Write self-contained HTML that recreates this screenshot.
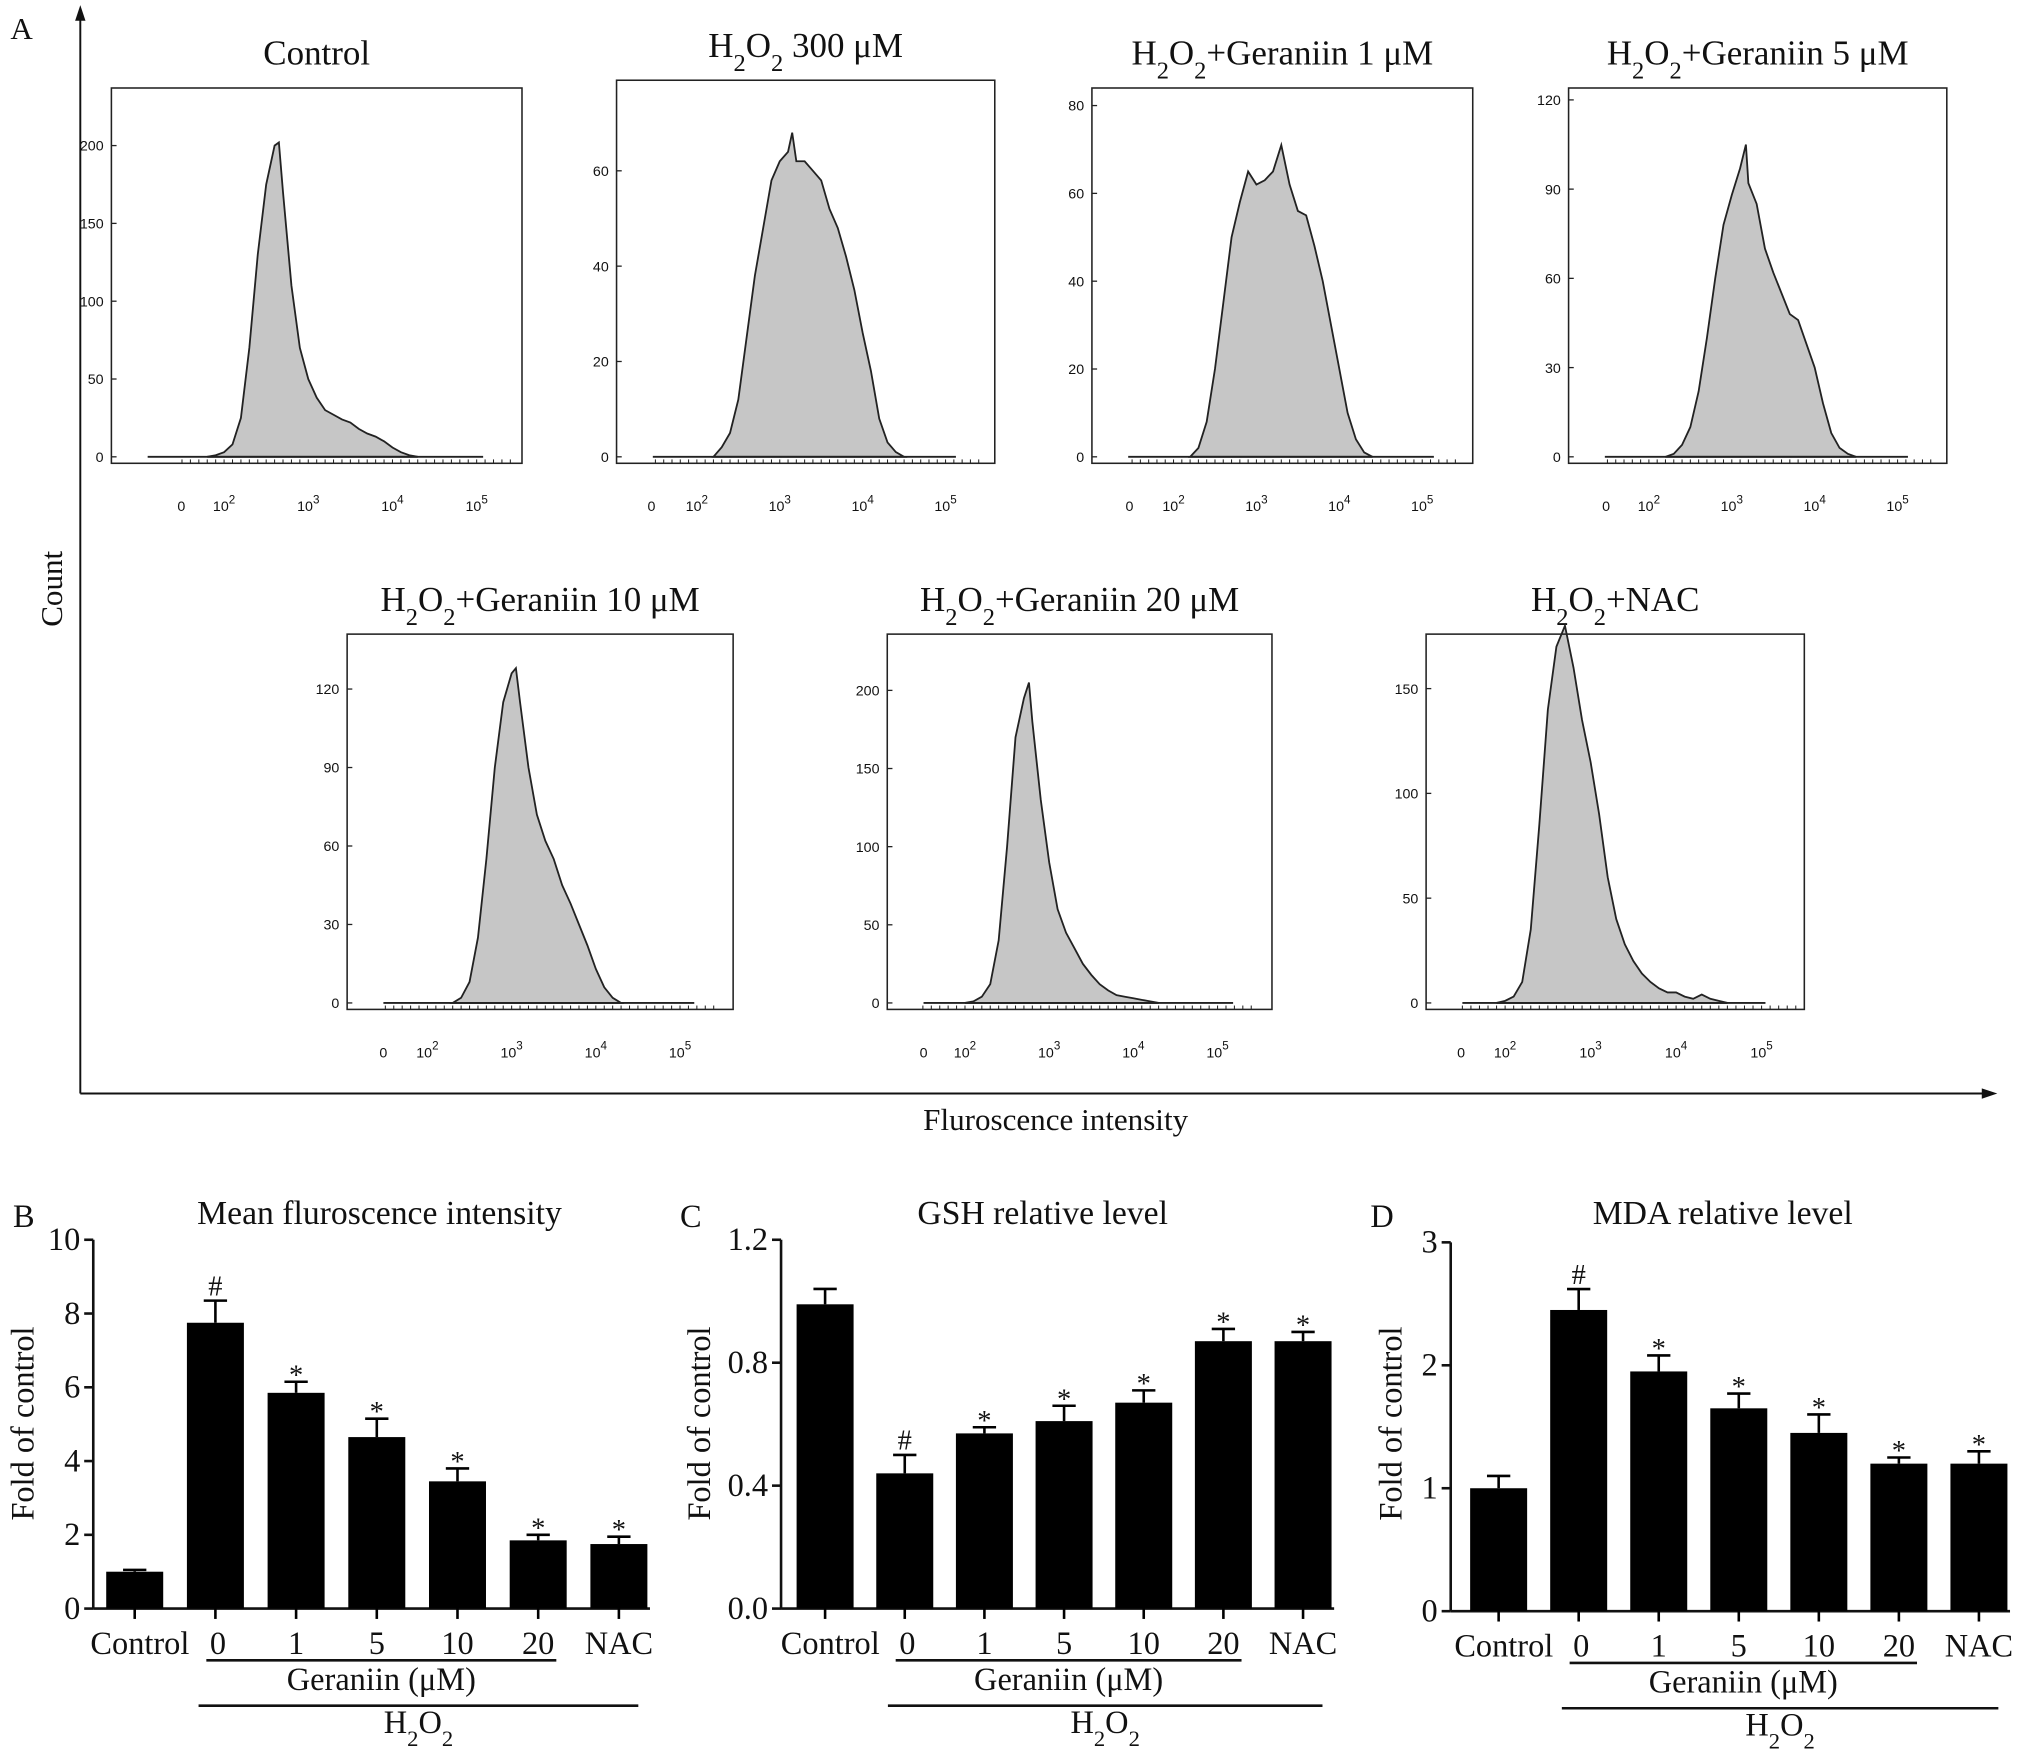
<!DOCTYPE html>
<html><head><meta charset="utf-8"><style>
html,body{margin:0;padding:0;background:#fff}
svg{display:block}
text{font-family:"Liberation Serif",serif;fill:#111}
.s{font-family:"Liberation Sans",sans-serif;font-size:11px}
</style></head><body>
<svg id="fig" width="2031" height="1760" viewBox="0 0 1568 1360" preserveAspectRatio="none" xmlns="http://www.w3.org/2000/svg">
<g>
<text x="8" y="30" font-size="24">A</text>
<line x1="62" y1="845" x2="62" y2="12" stroke="#111" stroke-width="1.5"/>
<polygon points="62,4 58,16 66,16" fill="#111"/>
<line x1="62" y1="845" x2="1532" y2="845" stroke="#111" stroke-width="1.5"/>
<polygon points="1542,845 1530,841 1530,849" fill="#111"/>
<text x="48" y="455" font-size="24" text-anchor="middle" transform="rotate(-90 48 455)">Count</text>
<text x="815" y="873" font-size="24" text-anchor="middle">Fluroscence intensity</text>
</g>
<g id="hists"></g>
<g id="bars"></g>
</svg>
<script>
// ---- histogram data (log10 fluorescence, counts) ----
const ctrlLog=[1.8,1.9,2.0,2.1,2.2,2.3,2.4,2.5,2.6,2.65,2.7,2.8,2.9,3.0,3.1,3.2,3.3,3.4,3.5,3.6,3.7,3.8,3.9,4.0,4.1,4.2,4.3];
const ctrlCnt=[0,1,3,8,25,70,130,175,200,202,170,110,70,50,38,30,27,24,22,18,15,13,10,6,3,1,0];
const h2Log=[2.2,2.3,2.4,2.5,2.6,2.7,2.8,2.9,3.0,3.1,3.15,3.2,3.3,3.4,3.5,3.6,3.7,3.8,3.9,4.0,4.1,4.2,4.3,4.4,4.5];
const h2Cnt=[0,2,5,12,25,38,48,58,62,64,68,62,62,60,58,52,48,42,35,26,18,8,3,1,0];
const g1Log=[2.2,2.3,2.4,2.5,2.6,2.7,2.8,2.9,3.0,3.1,3.2,3.3,3.4,3.5,3.6,3.7,3.8,3.9,4.0,4.1,4.2,4.3,4.4];
const g1Cnt=[0,2,8,20,35,50,58,65,62,63,65,71,62,56,55,48,40,30,20,10,4,1,0];
const g5Log=[2.2,2.3,2.4,2.5,2.6,2.7,2.8,2.9,3.0,3.1,3.17,3.2,3.3,3.4,3.5,3.6,3.7,3.8,3.9,4.0,4.1,4.2,4.3,4.4,4.5];
const g5Cnt=[0,1,4,10,22,40,60,78,88,97,105,92,85,70,62,55,48,46,38,30,18,8,3,1,0];
const g10Log=[2.3,2.4,2.5,2.6,2.7,2.8,2.9,3.0,3.05,3.1,3.2,3.3,3.4,3.5,3.6,3.7,3.8,3.9,4.0,4.1,4.2,4.3];
const g10Cnt=[0,2,8,25,55,90,115,126,128,115,90,72,62,55,45,38,30,22,13,6,2,0];
const g20Log=[2.0,2.1,2.2,2.3,2.4,2.5,2.6,2.7,2.76,2.8,2.9,3.0,3.1,3.2,3.3,3.4,3.5,3.6,3.7,3.8,3.9,4.0,4.1,4.2,4.3];
const g20Cnt=[0,1,4,12,40,100,170,195,205,180,130,90,60,45,35,25,18,12,8,5,4,3,2,1,0];
const nacLog=[1.9,2.0,2.1,2.2,2.3,2.4,2.5,2.6,2.7,2.8,2.9,3.0,3.1,3.2,3.3,3.4,3.5,3.6,3.7,3.8,3.9,4.0,4.1,4.2,4.3,4.4,4.5,4.6];
const nacCnt=[0,1,3,10,35,85,140,170,180,160,135,115,90,60,40,28,20,14,10,7,5,5,3,2,4,2,1,0];
const yTicksA=[[0,50,100,150,200],[0,20,40,60],[0,20,40,60,80],[0,30,60,90,120],[0,30,60,90,120],[0,50,100,150,200],[0,50,100,150]];
const histTitles=["Control","H2O2 300 μM","H2O2+Geraniin 1 μM","H2O2+Geraniin 5 μM","H2O2+Geraniin 10 μM","H2O2+Geraniin 20 μM","H2O2+NAC"];
const histLogs=[ctrlLog,h2Log,g1Log,g5Log,g10Log,g20Log,nacLog];
const histCnts=[ctrlCnt,h2Cnt,g1Cnt,g5Cnt,g10Cnt,g20Cnt,nacCnt];
const histMax=[237,79,84,124,141,236,176];
// layout: left,right,top,bottom,zeroX,x10^2,decade
const boxes=[[86,403,68,358,140,173,65],[476,768,62,358,503,538,64],[843,1137,68,358,872,906,64],[1211,1503,68,358,1240,1273,64],
[268,566,490,780,296,330,65],[685,982,490,780,713,745,65],[1101,1393,490,780,1128,1162,66]];

const NS="http://www.w3.org/2000/svg";
function mk(tag,attrs,parent,txt){const e=document.createElementNS(NS,tag);for(const k in attrs)e.setAttribute(k,attrs[k]);if(txt!==undefined)e.textContent=txt;parent.appendChild(e);return e;}
function subText(parent,x,y,size,str,anchor){
 const t=mk('text',{x:x,y:y,'font-size':size,'text-anchor':anchor||'middle'},parent);
 const parts=str.split(/(H2O2)/);
 parts.forEach(p=>{ if(p==='H2O2'){
   mk('tspan',{},t,'H');mk('tspan',{'baseline-shift':'sub','font-size':size*0.7},t,'2');
   mk('tspan',{},t,'O');mk('tspan',{'baseline-shift':'sub','font-size':size*0.7},t,'2');
 } else if(p) mk('tspan',{},t,p);});
 return t;
}
const H=document.getElementById('hists');
boxes.forEach((b,i)=>{
 const [l,r,t,bt,zx,p2,dec]=b;
 const g=mk('g',{},H);
 
 
 const y0=bt-5;
 const ys=v=>y0-(v/histMax[i])*(y0-t);
 const xs=lg=>p2+(lg-2)*dec;
 const tt=subText(g,(l+r)/2,t-18,27,histTitles[i]);
 
 
 const L=histLogs[i],C=histCnts[i];
 let d='M'+xs(L[0])+','+y0;
 L.forEach((lg,k)=>{d+=' L'+xs(lg).toFixed(1)+','+ys(C[k]).toFixed(1);});
 d+=' L'+xs(L[L.length-1])+','+y0+' Z';
 const p=mk('path',{d:d,fill:'#c6c6c6',stroke:'#222','stroke-width':1.4},g);
 
 
 mk('line',{x1:l+28,y1:y0,x2:r-30,y2:y0,stroke:'#222','stroke-width':1.4},g);
 mk('rect',{x:l,y:t,width:r-l,height:bt-t,fill:'none',stroke:'#222','stroke-width':1.2},g);
 yTicksA[i].forEach(v=>{const y=ys(v);
  mk('line',{x1:l,y1:y,x2:l+4,y2:y,stroke:'#222'},g);
  const tx=mk('text',{x:l-6,y:y+4,class:'s','text-anchor':'end'},g,v);
  
  
 });
 for(let lg=1.5;lg<=5.4;lg+=0.1){const x=xs(lg);if(x>l&&x<r) mk('line',{x1:x,y1:bt,x2:x,y2:bt-3,stroke:'#222','stroke-width':0.8},g);}
 const lab=[['0',zx]];[2,3,4,5].forEach(e=>lab.push(['10',xs(e),e]));
 lab.forEach(a=>{
  const tx=mk('text',{x:a[1],y:bt+37,class:'s','text-anchor':'middle'},g);
  
  
  mk('tspan',{},tx,a[0]);
  if(a[2]) mk('tspan',{dy:-6,'font-size':9},tx,a[2]);
 });
});

// ---- bar charts ----
const barCats=["Control","0","1","5","10","20","NAC"];
const mfiVals=[1.0,7.75,5.85,4.65,3.45,1.85,1.75];
const mfiErr=[0.05,0.6,0.3,0.5,0.35,0.15,0.2];
const gshVals=[0.99,0.44,0.57,0.61,0.67,0.87,0.87];
const gshErr=[0.05,0.06,0.02,0.05,0.04,0.04,0.03];
const mdaVals=[1.0,2.45,1.95,1.65,1.45,1.2,1.2];
const mdaErr=[0.1,0.17,0.13,0.12,0.15,0.05,0.1];
const mfiTicks=[0,2,4,6,8,10];
const gshTicks=["0.0","0.4","0.8","1.2"];
const mdaTicks=[0,1,2,3];
const marks=["","#","*","*","*","*","*"];
const charts=[
 {id:'b',label:'B',title:'Mean fluroscence intensity',vals:mfiVals,err:mfiErr,ticks:mfiTicks,max:10,ax:72,y0:1243,yt:958,c0:104,step:62.3,tx:293,lx:10,ylx:26},
 {id:'c',label:'C',title:'GSH relative level',vals:gshVals,err:gshErr,ticks:gshTicks,max:1.2,ax:603,y0:1243,yt:958,c0:637,step:61.5,tx:805,lx:525,ylx:548},
 {id:'d',label:'D',title:'MDA relative level',vals:mdaVals,err:mdaErr,ticks:mdaTicks,max:3,ax:1120,y0:1245,yt:960,c0:1157,step:61.8,tx:1330,lx:1058,ylx:1082}];
const B=document.getElementById('bars');
charts.forEach(c=>{
 const g=mk('g',{},B);
 
 
 const ys=v=>c.y0-(v/c.max)*(c.y0-c.yt);
 const xs=k=>c.c0+k*c.step;
 const pl=mk('text',{x:c.lx,y:948,'font-size':25},g,c.label);
 
 
 const ti=mk('text',{x:c.tx,y:946,'font-size':26,'text-anchor':'middle'},g,c.title);
 
 
 const yl=mk('text',{x:c.ylx,y:1100,'font-size':25,'text-anchor':'middle',transform:'rotate(-90 '+c.ylx+' 1100)'},g,'Fold of control');
 
 
 mk('line',{x1:c.ax,y1:c.yt,x2:c.ax,y2:c.y0,stroke:'#111','stroke-width':2},g);
 mk('line',{x1:c.ax,y1:c.y0,x2:xs(6)+24,y2:c.y0,stroke:'#111','stroke-width':2},g);
 c.ticks.forEach(tv=>{const y=ys(parseFloat(tv));
  mk('line',{x1:c.ax-7,y1:y,x2:c.ax,y2:y,stroke:'#111','stroke-width':2},g);
  const tx=mk('text',{x:c.ax-10,y:y+8,'font-size':25,'text-anchor':'end'},g,tv);
  
  
 });
 c.vals.forEach((v,k)=>{
  const x=xs(k),w=44,top=ys(v),et=ys(v+c.err[k]);
  const r=mk('rect',{x:x-w/2,y:top,width:w,height:c.y0-top,fill:'#000'},g);
  
  
  mk('line',{x1:x,y1:top,x2:x,y2:et,stroke:'#000','stroke-width':2},g);
  mk('line',{x1:x-9,y1:et,x2:x+9,y2:et,stroke:'#000','stroke-width':2},g);
  mk('line',{x1:x,y1:c.y0,x2:x,y2:c.y0+8,stroke:'#000','stroke-width':2},g);
  if(marks[k]){const m=mk('text',{x:x,y:et-(marks[k]==='*'?-2:4),'font-size':22,'text-anchor':'middle'},g,marks[k]);
   
   }
  const lb=mk('text',{x:k===0?x+4:(k===1?x+2:x),y:c.y0+35,'font-size':25,'text-anchor':'middle'},g,barCats[k]);
  
  
 });
 const gx1=xs(1)-7,gx2=xs(5)+14,hx1=xs(1)-13,hx2=xs(6)+15;
 mk('line',{x1:gx1,y1:c.y0+40,x2:gx2,y2:c.y0+40,stroke:'#111','stroke-width':2},g);
 const gl=mk('text',{x:(gx1+gx2)/2,y:c.y0+63,'font-size':25,'text-anchor':'middle'},g,'Geraniin (μM)');
 
 
 mk('line',{x1:hx1,y1:c.y0+75,x2:hx2,y2:c.y0+75,stroke:'#111','stroke-width':2},g);
 const hl=subText(g,(hx1+hx2)/2,c.y0+96,25,'H2O2');
 
 
});
</script>
</body></html>
